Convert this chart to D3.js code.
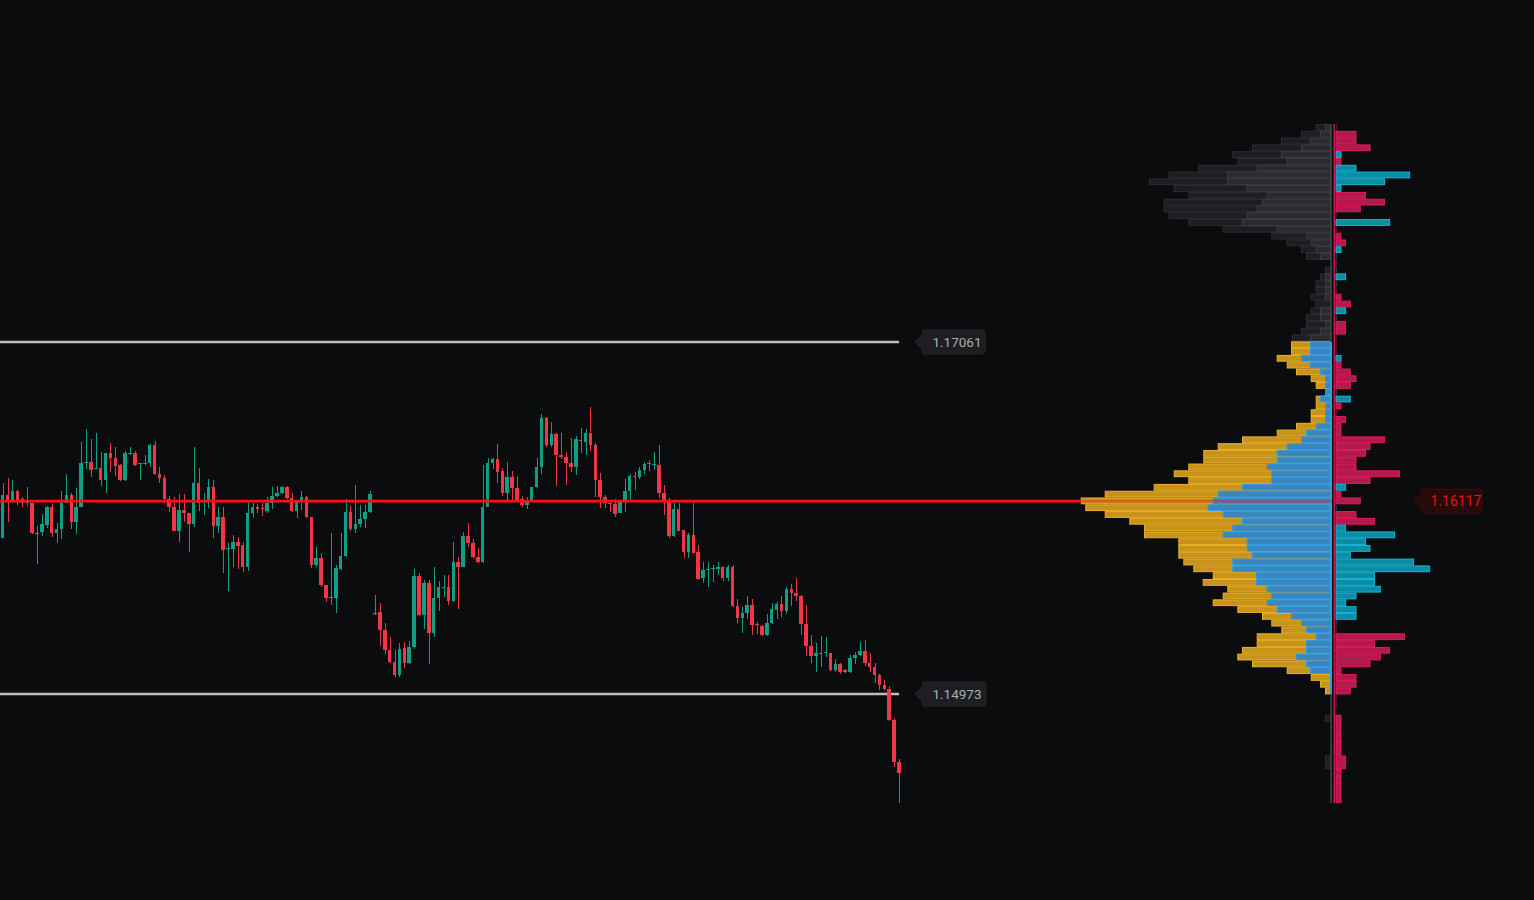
<!DOCTYPE html>
<html><head><meta charset="utf-8">
<script src="https://cdn.jsdelivr.net/npm/d3@7"></script>
<style>html,body{margin:0;padding:0;background:#0b0c0e;overflow:hidden}</style>
</head><body><svg id="c" width="1534" height="900"></svg>
<script>
// ---- price levels ----
const VAH = 1.17061, VAL = 1.14973, POC = 1.16117;
const profileTop = 1.18354, rowSize = 0.0004028;

// ---- candles (OHLC) ----
const opens = [1.15899,1.16154,1.16118,1.16177,1.16130,1.16106,1.16106,1.15922,1.15934,1.15976,
1.16082,1.15928,1.15952,1.16106,1.16154,1.15994,1.16082,1.16343,1.16349,1.16308,
1.16314,1.16243,1.16403,1.16373,1.16332,1.16243,1.16397,1.16403,1.16338,1.16338,
1.16343,1.16450,1.16278,1.16255,1.16130,1.16082,1.15940,1.16065,1.16047,1.15982,
1.16225,1.16112,1.16112,1.16201,1.15970,1.16023,1.15833,1.15833,1.15875,1.15857,
1.15727,1.16047,1.16082,1.16077,1.16059,1.16106,1.16148,1.16166,1.16201,1.16136,
1.16059,1.16112,1.16142,1.16023,1.15739,1.15780,1.15620,1.15543,1.15543,1.15715,
1.15792,1.16053,1.15952,1.15982,1.16011,1.16053,1.15448,1.15460,1.15353,1.15234,
1.15163,1.15086,1.15246,1.15157,1.15252,1.15673,1.15442,1.15632,1.15335,1.15543,
1.15602,1.15608,1.15525,1.15756,1.15727,1.15911,1.15869,1.15786,1.15756,1.16082,
1.16343,1.16367,1.16296,1.16166,1.16261,1.16196,1.16130,1.16094,1.16118,1.16201,
1.16320,1.16610,1.16450,1.16515,1.16391,1.16379,1.16343,1.16320,1.16480,1.16468,
1.16521,1.16450,1.16243,1.16142,1.16106,1.16100,1.16047,1.16112,1.16177,1.16267,
1.16261,1.16302,1.16343,1.16332,1.16332,1.16166,1.16124,1.15911,1.16071,1.15946,
1.15816,1.15916,1.15816,1.15661,1.15709,1.15715,1.15715,1.15727,1.15661,1.15727,
1.15496,1.15424,1.15454,1.15501,1.15389,1.15377,1.15323,1.15395,1.15472,1.15507,
1.15466,1.15596,1.15573,1.15555,1.15389,1.15258,1.15199,1.15211,1.15217,1.15217,
1.15116,1.15151,1.15116,1.15104,1.15187,1.15205,1.15228,1.15157,1.15134,1.15086,
1.15027,1.15003,1.14819,1.14570];
const highs = [1.16225,1.16255,1.16243,1.16183,1.16142,1.16201,1.16106,1.15970,1.16041,1.16088,
1.16100,1.15988,1.16177,1.16278,1.16166,1.16196,1.16468,1.16545,1.16486,1.16521,
1.16409,1.16403,1.16462,1.16438,1.16338,1.16415,1.16438,1.16415,1.16343,1.16391,
1.16456,1.16474,1.16320,1.16272,1.16148,1.16142,1.16160,1.16160,1.16047,1.16438,
1.16314,1.16166,1.16249,1.16243,1.16082,1.16082,1.15869,1.15916,1.15905,1.15875,
1.16106,1.16106,1.16100,1.16106,1.16142,1.16201,1.16207,1.16207,1.16207,1.16166,
1.16112,1.16177,1.16148,1.16023,1.15845,1.15810,1.15620,1.15928,1.15739,1.15928,
1.16130,1.16088,1.16213,1.16094,1.16094,1.16177,1.15561,1.15513,1.15395,1.15312,
1.15234,1.15276,1.15282,1.15288,1.15715,1.15691,1.15650,1.15650,1.15727,1.15644,
1.15679,1.15679,1.15875,1.15786,1.15934,1.15988,1.15893,1.15839,1.16332,1.16373,
1.16373,1.16456,1.16314,1.16349,1.16296,1.16267,1.16148,1.16142,1.16201,1.16373,
1.16634,1.16616,1.16587,1.16521,1.16521,1.16409,1.16492,1.16504,1.16551,1.16545,
1.16676,1.16462,1.16284,1.16154,1.16112,1.16130,1.16112,1.16249,1.16278,1.16290,
1.16320,1.16349,1.16361,1.16409,1.16450,1.16213,1.16136,1.16112,1.16106,1.15946,
1.15928,1.16124,1.15857,1.15756,1.15756,1.15739,1.15756,1.15733,1.15739,1.15739,
1.15537,1.15490,1.15555,1.15537,1.15401,1.15383,1.15448,1.15513,1.15519,1.15555,
1.15608,1.15626,1.15661,1.15561,1.15501,1.15323,1.15276,1.15317,1.15312,1.15217,
1.15181,1.15157,1.15122,1.15205,1.15222,1.15282,1.15294,1.15217,1.15157,1.15092,
1.15057,1.15021,1.14831,1.14588];
const lows = [1.15899,1.15994,1.16106,1.16094,1.16082,1.16088,1.15922,1.15744,1.15911,1.15958,
1.15905,1.15869,1.15893,1.16106,1.15952,1.15922,1.16082,1.16308,1.16261,1.16308,
1.16207,1.16166,1.16290,1.16267,1.16237,1.16237,1.16391,1.16326,1.16243,1.16332,
1.16320,1.16272,1.16225,1.16106,1.16053,1.15940,1.15875,1.15994,1.15816,1.15964,
1.16059,1.16035,1.16077,1.15899,1.15928,1.15691,1.15585,1.15727,1.15715,1.15697,
1.15703,1.16017,1.16047,1.16029,1.16047,1.16071,1.16142,1.16160,1.16130,1.16053,
1.16017,1.16065,1.16017,1.15721,1.15727,1.15608,1.15519,1.15501,1.15454,1.15709,
1.15786,1.15940,1.15928,1.15964,1.15958,1.16047,1.15442,1.15258,1.15211,1.15157,
1.15074,1.15074,1.15128,1.15151,1.15240,1.15436,1.15359,1.15151,1.15312,1.15466,
1.15549,1.15501,1.15519,1.15478,1.15727,1.15845,1.15780,1.15750,1.15750,1.16082,
1.16308,1.16225,1.16148,1.16118,1.16124,1.16118,1.16082,1.16071,1.16118,1.16196,
1.16278,1.16438,1.16438,1.16207,1.16367,1.16213,1.16290,1.16272,1.16403,1.16391,
1.16415,1.16142,1.16077,1.16077,1.16053,1.16023,1.16047,1.16053,1.16124,1.16183,
1.16249,1.16278,1.16296,1.16302,1.16136,1.16035,1.15899,1.15905,1.15940,1.15780,
1.15780,1.15810,1.15650,1.15632,1.15608,1.15638,1.15679,1.15644,1.15644,1.15490,
1.15395,1.15335,1.15418,1.15323,1.15329,1.15317,1.15317,1.15389,1.15418,1.15430,
1.15448,1.15496,1.15525,1.15323,1.15199,1.15157,1.15104,1.15134,1.15193,1.15110,
1.15104,1.15092,1.15098,1.15098,1.15151,1.15199,1.15140,1.15104,1.15039,1.14997,
1.14997,1.14813,1.14541,1.14327];
const closes = [1.16154,1.16112,1.16177,1.16124,1.16106,1.16112,1.15928,1.15928,1.15982,1.16082,
1.15928,1.15952,1.16106,1.16154,1.15994,1.16082,1.16343,1.16349,1.16302,1.16314,
1.16243,1.16403,1.16373,1.16326,1.16243,1.16403,1.16403,1.16332,1.16343,1.16343,
1.16450,1.16278,1.16255,1.16130,1.16082,1.15940,1.16065,1.16047,1.15982,1.16225,
1.16106,1.16118,1.16201,1.15970,1.16023,1.15827,1.15839,1.15875,1.15851,1.15727,
1.16047,1.16082,1.16071,1.16071,1.16106,1.16148,1.16166,1.16201,1.16136,1.16059,
1.16112,1.16142,1.16023,1.15739,1.15780,1.15620,1.15543,1.15549,1.15721,1.15792,
1.16053,1.15952,1.15982,1.16011,1.16053,1.16160,1.15454,1.15353,1.15234,1.15163,
1.15086,1.15240,1.15157,1.15252,1.15673,1.15442,1.15632,1.15335,1.15543,1.15608,
1.15608,1.15525,1.15756,1.15727,1.15911,1.15869,1.15786,1.15756,1.16082,1.16343,
1.16367,1.16290,1.16166,1.16261,1.16196,1.16124,1.16094,1.16118,1.16201,1.16320,
1.16610,1.16450,1.16515,1.16391,1.16379,1.16343,1.16320,1.16486,1.16474,1.16521,
1.16450,1.16243,1.16142,1.16106,1.16100,1.16041,1.16112,1.16177,1.16267,1.16261,
1.16302,1.16338,1.16338,1.16338,1.16166,1.16118,1.15911,1.16071,1.15940,1.15816,
1.15916,1.15810,1.15656,1.15709,1.15715,1.15721,1.15727,1.15661,1.15727,1.15496,
1.15424,1.15454,1.15501,1.15383,1.15383,1.15323,1.15395,1.15478,1.15507,1.15466,
1.15596,1.15573,1.15555,1.15389,1.15258,1.15199,1.15217,1.15217,1.15222,1.15116,
1.15151,1.15104,1.15104,1.15187,1.15205,1.15228,1.15157,1.15134,1.15086,1.15027,
1.15003,1.14819,1.14570,1.14505];

// ---- volume profile rows (top to bottom) ----
const buyVol = [60,110,210,300,500,443,743,1037,1037,843,
643,690,743,843,890,543,250,203,153,110,
5,10,60,60,60,60,10,110,110,60,
110,210,210,210,300,210,110,60,60,60,
110,60,60,60,153,250,300,443,543,543,
643,597,597,890,1133,1183,1233,1083,890,987,
1083,843,843,793,987,987,750,750,643,597,
643,543,400,300,250,153,250,250,350,250,
210,10,10,10,3,3,3,10,3,3,
3,3,3,10,10,3,3,3,3,3];
const sellVol = [93,190,290,490,487,494,584,586,783,730,
784,983,930,780,537,540,347,240,147,140,
5,50,50,93,93,143,143,93,140,190,
190,183,190,190,243,233,240,143,93,0,
43,93,143,143,197,293,590,690,734,734,
784,976,830,883,1130,1320,1224,1180,1127,883,
787,684,684,734,490,390,433,533,394,486,
540,394,290,297,247,590,493,640,587,540,
233,193,100,50,8,8,8,50,8,8,
8,8,8,50,50,8,8,8,8,8];
const delta = [-3,-210,-210,-350,60,-60,210,746,496,60,
-306,-496,-253,-10,546,-10,-60,-106,60,10,
-10,10,106,10,-10,-60,-153,106,10,-106,
-106,-10,-10,-10,60,-60,-153,-210,-153,10,
153,-60,-10,-106,-60,-60,-496,-350,-306,-210,
-210,-646,-350,106,-60,-253,10,-210,-396,106,
596,306,350,153,786,946,396,396,453,210,
106,210,210,10,-10,-696,-396,-546,-453,-350,
-60,-210,-210,-153,-10,-10,0,-60,-60,-60,
-60,-60,-60,-106,-106,-60,-60,-60,-60,-60];

// ---- drawing ----
const W = 1534, H = 900;
const svg = d3.select("#c");
svg.append("rect").attr("width", W).attr("height", H).attr("fill", "#0b0c0e");

const y = d3.scaleLinear().domain([VAL, VAH]).range([694, 342]);
const n = opens.length;
const x = d3.scaleBand().domain(d3.range(n)).range([0.94, 900.8]).paddingInner(0.28).paddingOuter(0);
const lastX = x(n - 1) + x.bandwidth() / 2;
const fmt = d3.format(".5f");

const UP = "#0f9f84", DN = "#f23645";

// value area lines
[VAH, VAL].forEach(v => {
  svg.append("line").attr("x1", 0).attr("x2", lastX).attr("y1", y(v)).attr("y2", y(v))
    .attr("stroke", "#bdbdbd").attr("stroke-width", 2.5);
});

// candles
const cg = svg.append("g").attr("shape-rendering", "crispEdges");
const idx = d3.range(n);
cg.selectAll("line.w").data(idx).join("line")
  .attr("x1", i => Math.round(x(i) + x.bandwidth() / 2) + 0.5)
  .attr("x2", i => Math.round(x(i) + x.bandwidth() / 2) + 0.5)
  .attr("y1", i => y(highs[i])).attr("y2", i => y(lows[i]))
  .attr("stroke", i => closes[i] >= opens[i] ? UP : DN).attr("stroke-width", 1);
cg.selectAll("rect.b").data(idx).join("rect")
  .attr("x", i => x(i))
  .attr("width", x.bandwidth())
  .attr("y", i => y(Math.max(opens[i], closes[i])))
  .attr("height", i => Math.max(1, Math.abs(y(opens[i]) - y(closes[i]))))
  .attr("fill", i => closes[i] >= opens[i] ? UP : DN);

// ---- profile ----
const axisX = 1331, deltaX = 1335.5;
const totals = buyVol.map((b, i) => b + sellVol[i]);
const xv = d3.scaleLinear().domain([0, d3.max(totals)]).range([0, 250.3]);
const xd = d3.scaleLinear().domain([0, d3.max(delta.map(Math.abs))]).range([0, 94.6]);
const rows = d3.range(buyVol.length).map(i => {
  const top = profileTop - i * rowSize, bot = top - rowSize, mid = top - rowSize / 2;
  return { i, top, bot, inVA: mid <= VAH && mid >= VAL };
});
const pg = svg.append("g");
function bar(x0, w, yt, yb, fill, stroke) {
  if (w <= 0) return;
  const r = pg.append("rect").attr("x", x0 + 0.5).attr("y", yt + 0.5)
    .attr("width", Math.max(0.5, w - 1)).attr("height", Math.max(0.5, yb - yt - 1))
    .attr("fill", fill);
  if (w > 2) r.attr("stroke", stroke).attr("stroke-width", 1);
}
rows.forEach(r => {
  const yt = y(r.top), yb = y(r.bot);
  const tw = xv(totals[r.i]), bw = xv(buyVol[r.i]);
  if (r.inVA) {
    bar(axisX - tw, tw, yt, yb, "#c7931b", "#edb224");
    bar(axisX - bw, bw, yt, yb, "#3a86bf", "#2f9ce6");
  } else {
    bar(axisX - tw, tw, yt, yb, "#1d1e21", "#2d2e32");
    bar(axisX - bw, bw, yt, yb, "#2a2b2f", "#3c3d42");
  }
  const d = delta[r.i], dw = xd(Math.abs(d));
  if (dw > 0) {
    if (d >= 0) bar(deltaX, dw, yt, yb, "#0c8ba4", "#17b6d4");
    else bar(deltaX, dw, yt, yb, "#b3194c", "#e21b5c");
  }
});
// axis lines
const yTop = y(profileTop), yBot = y(profileTop - rowSize * buyVol.length);
pg.append("line").attr("x1", axisX).attr("x2", axisX).attr("y1", yTop).attr("y2", yBot)
  .attr("stroke", "#44454a").attr("stroke-width", 1.5);
pg.append("line").attr("x1", axisX).attr("x2", axisX).attr("y1", y(VAH)).attr("y2", y(VAL))
  .attr("stroke", "#2f9ce6").attr("stroke-width", 2);
pg.append("line").attr("x1", 1334.3).attr("x2", 1334.3).attr("y1", yTop).attr("y2", yBot)
  .attr("stroke", "#c8184f").attr("stroke-width", 1.5);

// POC line
const pocRow = totals.indexOf(d3.max(totals));
const pocLeft = axisX - xv(totals[pocRow]);
svg.append("line").attr("x1", 0).attr("x2", pocLeft).attr("y1", y(POC)).attr("y2", y(POC))
  .attr("stroke", "#ff1010").attr("stroke-width", 2.6);
svg.append("line").attr("x1", pocLeft).attr("x2", axisX).attr("y1", y(POC)).attr("y2", y(POC))
  .attr("stroke", "#ff1010").attr("stroke-width", 2.6).attr("stroke-opacity", 0.4);

// tags
function tagPath(tip, yc, w, h) {
  const x0 = tip + 7, r = 3, hh = h / 2;
  return `M${tip},${yc} L${x0},${yc - 7} V${yc - hh + r} Q${x0},${yc - hh} ${x0 + r},${yc - hh} H${x0 + w - r} Q${x0 + w},${yc - hh} ${x0 + w},${yc - hh + r} V${yc + hh - r} Q${x0 + w},${yc + hh} ${x0 + w - r},${yc + hh} H${x0 + r} Q${x0},${yc + hh} ${x0},${yc + hh - r} V${yc + 7} Z`;
}
function tag(tip, v, w, fill, stroke, color, fs) {
  const yc = y(v);
  svg.append("path").attr("d", tagPath(tip, yc, w, 24)).attr("fill", fill)
    .attr("stroke", stroke).attr("stroke-width", 1);
  svg.append("text").attr("x", tip + 7 + 35).attr("y", yc).attr("dy", "0.36em")
    .attr("text-anchor", "middle").attr("font-family", "Roboto, 'Liberation Sans', sans-serif")
    .attr("font-size", fs).attr("fill", color).text(fmt(v));
}
tag(915, VAH, 63, "#1d1e21", "#232428", "#a9abae", 13.5);
tag(915, VAL, 64, "#1d1e21", "#232428", "#a9abae", 13.5);
tag(1414, POC, 61, "#2a090b", "#3a0e11", "#dc1a1a", 14);
</script></body></html>
